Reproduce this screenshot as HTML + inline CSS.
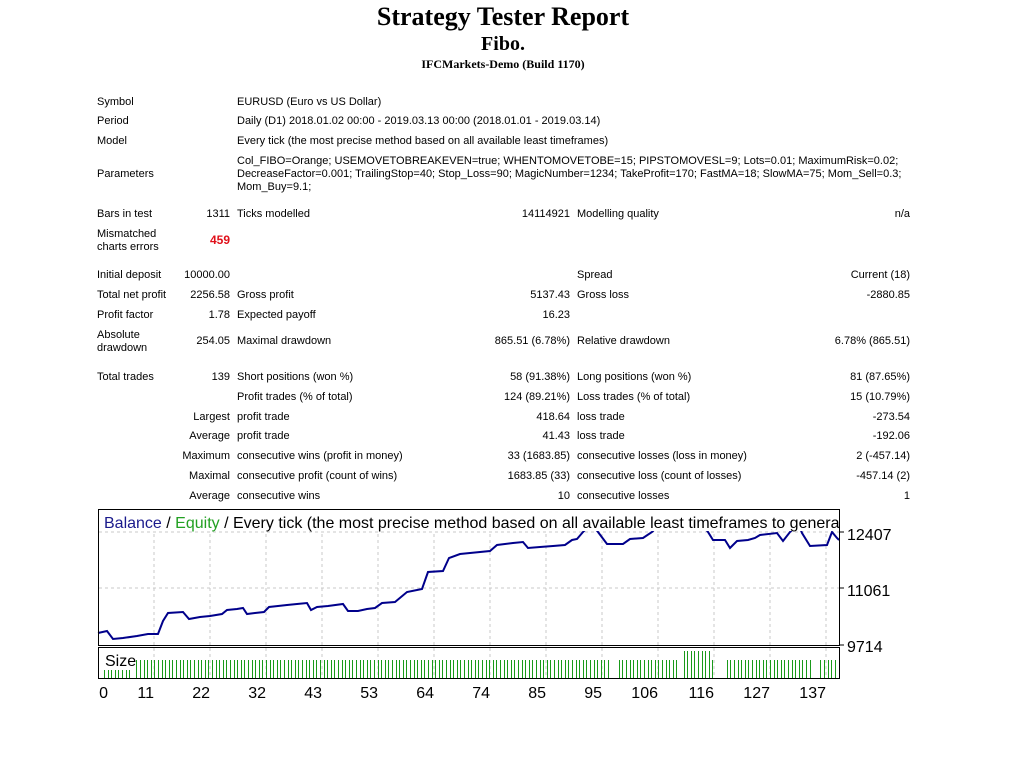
<!DOCTYPE html>
<html><head><meta charset="utf-8"><style>
body{margin:0;width:1024px;height:768px;background:#fff;position:relative;overflow:hidden;font-family:"Liberation Sans",sans-serif;font-size:11px;color:#000}
.t{position:absolute;line-height:14px;white-space:nowrap}
.r{text-align:right}
.h{position:absolute;left:0;width:1006px;text-align:center;font-family:"Liberation Serif",serif;font-weight:bold;white-space:nowrap}
</style></head><body>
<div class="h" style="top:2px;font-size:26px;line-height:30px">Strategy Tester Report</div>
<div class="h" style="top:32px;font-size:20px;line-height:24px">Fibo.</div>
<div class="h" style="top:56px;font-size:12px;line-height:16px">IFCMarkets-Demo (Build 1170)</div>
<div id="tbl"></div>
<svg style="position:absolute;left:0;top:0" width="1024" height="768" id="ch">
<g stroke="#c8c8c8" stroke-dasharray="3,3" stroke-width="1" id="grid"></g>
<polyline id="bal" fill="none" stroke="#00008b" stroke-width="2" points="98,633 107,631 113,639 123,638 137,636 148,634 158,634 163,621 168,613 183,612 189,619 200,617 210,616 222,614 227,610 237,609 243,608 247,614 255,613 264,612 269,607 278,606 287,605 297,604 307,603 311,610 317,607 328,606 343,604 348,611 358,611 367,609 375,608 382,603 395,602 407,592 422,589 428,572 443,571 449,558 460,554 470,553 490,551 497,545 513,543 523,542 528,548 540,547 553,546 565,545 572,540 577,539 583,532 587,528 595,528 598,532 607,544 623,544 630,539 643,538 652,532 656,528 705,528 708,532 713,540 725,540 730,548 737,541 748,540 755,538 760,535 777,533 783,541 790,532 794,528 800,528 802,533 810,546 827,545 832,532 837,538 839,540"/>
<rect x="99" y="510" width="740" height="21" fill="#fff"/>
<text x="104" y="528" font-family="Liberation Sans" font-size="16" fill="#000"><tspan fill="#1a1a8c">Balance</tspan> / <tspan fill="#22a022">Equity</tspan> / Every tick (the most precise method based on all available least timeframes to generat</text>
<rect x="839" y="509" width="10" height="22" fill="#fff"/>
<rect x="98.5" y="509.5" width="741" height="136" fill="none" stroke="#000"/>
<rect x="98.5" y="647.5" width="741" height="31" fill="none" stroke="#000"/>
<g stroke="#000"><line x1="840" y1="532" x2="844" y2="532"/><line x1="840" y1="588" x2="844" y2="588"/><line x1="840" y1="645" x2="844" y2="645"/></g>
<g font-family="Liberation Sans" font-size="16" fill="#000">
<text x="847" y="540">12407</text><text x="847" y="596">11061</text><text x="847" y="652">9714</text>
<text x="105" y="666">Size</text>
</g>
<g stroke="#1a9a1a" stroke-width="1" id="bars"></g>
<g font-family="Liberation Sans" font-size="16" fill="#000" text-anchor="end" id="xl"></g>
</svg>
<script>
(function(){
var rows=[
[101,'Symbol',null,'EURUSD (Euro vs US Dollar)'],
[120,'Period',null,'Daily (D1) 2018.01.02 00:00 - 2019.03.13 00:00 (2018.01.01 - 2019.03.14)'],
[140,'Model',null,'Every tick (the most precise method based on all available least timeframes)'],
[173,'Parameters',null,null],
[213,'Bars in test','1311','Ticks modelled','14114921','Modelling quality','n/a'],
[274,'Initial deposit','10000.00','','','Spread','Current (18)'],
[294,'Total net profit','2256.58','Gross profit','5137.43','Gross loss','-2880.85'],
[314,'Profit factor','1.78','Expected payoff','16.23','',''],
[340,'',"254.05",'Maximal drawdown','865.51 (6.78%)','Relative drawdown','6.78% (865.51)'],
[376,'Total trades','139','Short positions (won %)','58 (91.38%)','Long positions (won %)','81 (87.65%)'],
[396,'',null,'Profit trades (% of total)','124 (89.21%)','Loss trades (% of total)','15 (10.79%)'],
[416,'','Largest','profit trade','418.64','loss trade','-273.54'],
[435,'','Average','profit trade','41.43','loss trade','-192.06'],
[455,'','Maximum','consecutive wins (profit in money)','33 (1683.85)','consecutive losses (loss in money)','2 (-457.14)'],
[475,'','Maximal','consecutive profit (count of wins)','1683.85 (33)','consecutive loss (count of losses)','-457.14 (2)'],
[495,'','Average','consecutive wins','10','consecutive losses','1']];
var h='';
function L(x,y,s,st){return '<div class="t" style="left:'+x+'px;top:'+(y-6)+'px;'+(st||'')+'">'+s+'</div>';}
function R(x,y,s,st){return '<div class="t r" style="right:'+(1024-x)+'px;top:'+(y-6)+'px;'+(st||'')+'">'+s+'</div>';}
rows.forEach(function(r){var y=r[0];
 if(r[1])h+=L(97,y,r[1]);
 if(r[2])h+=R(230,y,r[2]);
 if(r[3])h+=L(237,y,r[3]);
 if(r[4])h+=R(570,y,r[4]);
 if(r[5])h+=L(577,y,r[5]);
 if(r[6])h+=R(910,y,r[6]);});
h+=L(237,160,'Col_FIBO=Orange; USEMOVETOBREAKEVEN=true; WHENTOMOVETOBE=15; PIPSTOMOVESL=9; Lots=0.01; MaximumRisk=0.02;');
h+=L(237,173,'DecreaseFactor=0.001; TrailingStop=40; Stop_Loss=90; MagicNumber=1234; TakeProfit=170; FastMA=18; SlowMA=75; Mom_Sell=0.3;');
h+=L(237,186,'Mom_Buy=9.1;');
h+=L(97,233,'Mismatched');h+=L(97,246,'charts errors');
h+=R(230,239,'459','color:#e0101a;font-weight:bold;font-size:12px');
h+=L(97,334,'Absolute');h+=L(97,347,'drawdown');
document.getElementById('tbl').innerHTML=h;
var ns='http://www.w3.org/2000/svg';
var xs=[[0,108],[11,154],[22,210],[32,266],[43,322],[53,378],[64,434],[74,490],[85,546],[95,602],[106,658],[116,714],[127,770],[137,826]];
var g=document.getElementById('grid'),xl=document.getElementById('xl');
xs.forEach(function(a){
 if(a[0]>0){var l=document.createElementNS(ns,'line');l.setAttribute('x1',a[1]);l.setAttribute('x2',a[1]);l.setAttribute('y1',510);l.setAttribute('y2',679);g.appendChild(l);}
 var t=document.createElementNS(ns,'text');t.setAttribute('x',a[1]);t.setAttribute('y',698);t.textContent=a[0];xl.appendChild(t);});
[532,588].forEach(function(y){var l=document.createElementNS(ns,'line');l.setAttribute('x1',99);l.setAttribute('x2',839);l.setAttribute('y1',y);l.setAttribute('y2',y);g.appendChild(l);});
var b=document.getElementById('bars');
for(var x=104;x<836;x+=3.6){
 var xx=Math.round(x)+0.5;
 if((xx>610&&xx<618)||(xx>678&&xx<683)||(xx>714&&xx<725)||(xx>812&&xx<820))continue;
 if(xx>=130&&xx<135)continue;
 var ty=660;if(xx<132)ty=670;if(xx>683&&xx<711)ty=651;
 var l=document.createElementNS(ns,'line');l.setAttribute('x1',xx);l.setAttribute('x2',xx);l.setAttribute('y1',ty);l.setAttribute('y2',678);b.appendChild(l);}
})();
</script>
</body></html>
